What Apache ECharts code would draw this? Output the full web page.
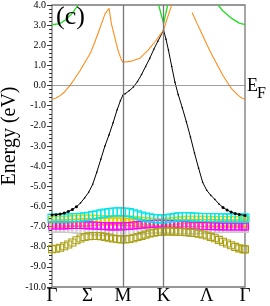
<!DOCTYPE html>
<html>
<head>
<meta charset="utf-8">
<script src="https://cdn.jsdelivr.net/npm/echarts@6/dist/echarts.min.js"></script>
<style>
html,body{margin:0;padding:0;background:#fff;}
#c{width:270px;height:306px;}
</style>
</head>
<body>
<div id="c"></div>
<script>
// high-symmetry path (k in path-length units)
var kHigh = [0, 0.87, 1.37, 2.37];
var kTickPos = [0, 0.435, 0.87, 1.37, 1.9, 2.37];
var kTickLabels = ['Γ', 'Σ', 'M', 'K', 'Λ', 'Γ'];
var yTicks = [-10, -9, -8, -7, -6, -5, -4, -3, -2, -1, 0, 1, 2, 3, 4];

// k grid of the fat-band samples
var kFat = [0,0.05,0.10,0.15,0.20,0.25,0.30,0.35,0.40,0.45,0.50,0.55,0.60,0.65,0.70,0.75,0.80,0.85,
  0.90,0.95,1.00,1.05,1.10,1.15,1.20,1.25,1.30,1.35,
  1.40,1.45,1.50,1.55,1.60,1.65,1.70,1.75,1.80,1.85,1.90,1.95,2.00,2.05,2.10,2.15,2.20,2.25,2.30,2.35,2.37];

var cyanBand = [-6.58,-6.58,-6.58,-6.58,-6.57,-6.56,-6.55,-6.54,-6.52,-6.49,-6.45,-6.41,-6.37,-6.33,-6.30,-6.28,-6.27,-6.27,
  -6.28,-6.31,-6.36,-6.42,-6.48,-6.53,-6.57,-6.60,-6.62,-6.62,
  -6.61,-6.58,-6.55,-6.52,-6.51,-6.51,-6.52,-6.53,-6.54,-6.55,-6.55,-6.56,-6.56,-6.56,-6.57,-6.57,-6.57,-6.58,-6.58,-6.58,-6.58];
var yellowBand = [-6.68,-6.68,-6.67,-6.66,-6.65,-6.63,-6.61,-6.60,-6.60,-6.60,-6.61,-6.62,-6.63,-6.63,-6.63,-6.63,-6.63,-6.63,
  -6.64,-6.65,-6.67,-6.69,-6.71,-6.73,-6.75,-6.76,-6.77,-6.77,
  -6.76,-6.74,-6.72,-6.70,-6.68,-6.67,-6.66,-6.66,-6.66,-6.67,-6.67,-6.68,-6.68,-6.68,-6.68,-6.68,-6.68,-6.68,-6.68,-6.68,-6.68];
var orangeFatBand = [-6.85,-6.85,-6.85,-6.84,-6.83,-6.82,-6.81,-6.80,-6.79,-6.78,-6.77,-6.76,-6.75,-6.74,-6.74,-6.74,-6.75,-6.76,
  -6.77,-6.78,-6.79,-6.81,-6.83,-6.85,-6.86,-6.87,-6.87,-6.87,
  -6.86,-6.85,-6.84,-6.83,-6.82,-6.82,-6.82,-6.82,-6.82,-6.82,-6.83,-6.83,-6.83,-6.84,-6.84,-6.84,-6.85,-6.85,-6.85,-6.85,-6.85];
var magentaBand = [-6.95,-6.95,-6.95,-6.94,-6.93,-6.92,-6.92,-6.92,-6.93,-6.94,-6.95,-6.96,-6.97,-6.98,-6.99,-6.99,-6.99,-6.99,
  -6.98,-6.97,-6.95,-6.93,-6.91,-6.89,-6.87,-6.86,-6.85,-6.85,
  -6.86,-6.87,-6.88,-6.90,-6.92,-6.93,-6.94,-6.95,-6.96,-6.97,-6.97,-6.98,-6.98,-6.99,-6.99,-7.00,-7.00,-7.00,-7.00,-7.00,-7.00];
var greyBand = [-7.10,-7.10,-7.10,-7.11,-7.12,-7.13,-7.15,-7.17,-7.19,-7.21,-7.23,-7.25,-7.26,-7.27,-7.28,-7.28,-7.28,-7.28,
  -7.27,-7.26,-7.24,-7.22,-7.20,-7.18,-7.16,-7.15,-7.14,-7.14,
  -7.14,-7.15,-7.16,-7.17,-7.18,-7.19,-7.19,-7.19,-7.18,-7.17,-7.16,-7.15,-7.14,-7.13,-7.12,-7.11,-7.10,-7.10,-7.10,-7.10,-7.10];
var oliveBand = [-8.12,-8.10,-8.05,-7.98,-7.89,-7.79,-7.68,-7.59,-7.52,-7.48,-7.47,-7.47,-7.48,-7.51,-7.55,-7.59,-7.62,-7.64,
  -7.64,-7.62,-7.58,-7.52,-7.46,-7.40,-7.34,-7.30,-7.27,-7.25,
  -7.24,-7.24,-7.25,-7.26,-7.27,-7.28,-7.30,-7.32,-7.35,-7.39,-7.44,-7.51,-7.58,-7.66,-7.75,-7.84,-7.93,-8.01,-8.08,-8.12,-8.13];

// line bands: [k, E]
var blackBand = [[0,-6.42],[0.05,-6.41],[0.1,-6.38],[0.15,-6.33],[0.2,-6.25],[0.25,-6.15],[0.3,-6.02],[0.35,-5.83],[0.4,-5.58],[0.45,-5.3],[0.5,-4.9],[0.55,-4.3],[0.6,-3.65],[0.65,-3.0],[0.7,-2.45],[0.75,-1.85],[0.8,-1.2],[0.84,-0.75],[0.87,-0.48],
  [0.9,-0.40],[0.95,-0.25],[1.0,-0.07],[1.05,0.2],[1.1,0.55],[1.15,0.95],[1.2,1.35],[1.25,1.8],[1.3,2.2],[1.37,2.75],
  [1.40,2.3],[1.43,1.76],[1.47,0.95],[1.51,0.16],[1.55,-0.45],[1.6,-1.1],[1.65,-1.8],[1.7,-2.55],[1.75,-3.35],[1.8,-4.1],[1.85,-4.8],[1.9,-5.2],[1.95,-5.45],[2.0,-5.65],[2.05,-5.88],[2.1,-6.05],[2.15,-6.18],[2.2,-6.28],[2.25,-6.35],[2.3,-6.4],[2.37,-6.45]];
var orangeBandA = [[0,-0.68],[0.05,-0.62],[0.1,-0.5],[0.15,-0.33],[0.22,0.0],[0.28,0.35],[0.34,0.71],[0.4,1.12],[0.47,1.6],[0.52,2.1],[0.57,2.65],[0.61,3.1],[0.65,3.55],[0.7,3.84],[0.73,3.06],[0.77,2.41],[0.81,1.76],[0.85,1.3],[0.87,1.16],
  [0.96,1.2],[1.08,1.36],[1.18,1.76],[1.27,2.2],[1.37,2.75],[1.42,3.4],[1.47,4.0]];
var orangeBandB = [[1.72,3.63],[1.78,3.1],[1.84,2.58],[1.9,2.05],[1.96,1.55],[2.04,0.95],[2.1,0.5],[2.15,0.18],[2.21,-0.18],[2.29,-0.5],[2.33,-0.62],[2.37,-0.67]];
var greenBandA = [[0,3.02],[0.1,3.08],[0.18,3.3],[0.26,3.65],[0.32,4.0]];
var greenBandB = [[1.31,4.0],[1.37,3.08],[1.42,4.0]];
var greenBandC = [[2.04,4.0],[2.1,3.7],[2.2,3.35],[2.3,3.1],[2.37,3.02]];

var chart = echarts.init(document.getElementById('c'), null, {renderer: 'canvas'});
var serif = 'Liberation Serif';

function fat(name, vals, color, size) {
  return {
    name: name, type: 'line', data: kFat.map(function (k, i) { return [k, vals[i]]; }),
    symbol: 'rect', symbolSize: size, showSymbol: true,
    lineStyle: {width: 0},
    itemStyle: {color: 'rgba(0,0,0,0)', borderColor: color, borderWidth: 1.1},
    silent: true, z: 3
  };
}
function line(name, pts, color, w) {
  return {
    name: name, type: 'line', data: pts, showSymbol: false, symbol: 'none',
    lineStyle: {color: color, width: w}, itemStyle: {color: color}, silent: true, z: 4
  };
}

var blackSeries = line('black', blackBand, '#000', 1);
blackSeries.showSymbol = true;
blackSeries.symbol = 'circle';
blackSeries.symbolSize = function (v) { return v[1] < -5.9 ? 3 : 1.6; };
blackSeries.itemStyle = {color: '#000', borderWidth: 0};

var option = {
  animation: false,
  grid: {left: 52, right: 25, top: 4, bottom: 14, show: true, borderColor: '#777', borderWidth: 1.3, backgroundColor: 'transparent'},
  xAxis: {
    type: 'value', min: kHigh[0], max: kHigh[3],
    axisLine: {show: false}, axisTick: {show: false}, splitLine: {show: false},
    axisLabel: {
      customValues: kTickPos,
      formatter: function (v) { var i = kTickPos.indexOf(v); return i >= 0 ? kTickLabels[i] : ''; },
      fontFamily: serif, fontSize: 19, color: '#000', margin: 0, showMinLabel: true, showMaxLabel: true
    }
  },
  yAxis: {
    type: 'value', min: yTicks[0], max: yTicks[yTicks.length - 1], interval: 1,
    axisLine: {show: false},
    axisTick: {show: true, length: 5, lineStyle: {color: '#333', width: 1}},
    minorTick: {show: true, splitNumber: 5, length: 3, lineStyle: {color: '#333', width: 1}},
    splitLine: {show: false},
    axisLabel: {formatter: function (v) { return v.toFixed(1); }, fontFamily: serif, fontSize: 10, color: '#000', margin: 6}
  },
  series: [
    {
      type: 'line', data: [], silent: true, z: 2,
      markLine: {
        silent: true, symbol: 'none', animation: false, label: {show: false},
        lineStyle: {color: '#777', width: 1.3, type: 'solid'},
        emphasis: {disabled: true},
        data: [{xAxis: kHigh[1]}, {xAxis: kHigh[2]}, {yAxis: 0, lineStyle: {width: 0.8, color: '#888'}}]
      }
    },
    fat('grey', greyBand, '#c8c8c8', 7),
    fat('orangeFat', orangeFatBand, '#ffa500', 7),
    fat('yellow', yellowBand, '#dcdc00', 7),
    fat('magenta', magentaBand, '#ff00ff', 7),
    fat('cyan', cyanBand, '#00e6e6', 8),
    fat('olive', oliveBand, '#aaa012', 7),
    blackSeries,
    line('orangeA', orangeBandA, '#ff8c1a', 1.1),
    line('orangeB', orangeBandB, '#ff8c1a', 1.1),
    line('greenA', greenBandA, '#22dd22', 1.3),
    line('greenB', greenBandB, '#22dd22', 1.3),
    line('greenC', greenBandC, '#22dd22', 1.3)
  ],
  graphic: [
    {type: 'text', left: 56, top: 4, style: {text: '(c)', font: '26px "Liberation Serif"', fill: '#000'}, z: 10},
    {type: 'text', x: 10, y: 136, rotation: Math.PI / 2,
      style: {text: 'Energy (eV)', font: '20px "Liberation Serif"', fill: '#000', align: 'center', verticalAlign: 'middle'}},
    {type: 'text', x: 247, y: 77, style: {text: 'E', font: '18px "Liberation Serif"', fill: '#000'}},
    {type: 'text', x: 257, y: 86, style: {text: 'F', font: '16px "Liberation Serif"', fill: '#000'}}
  ]
};
chart.setOption(option);
</script>
</body>
</html>
